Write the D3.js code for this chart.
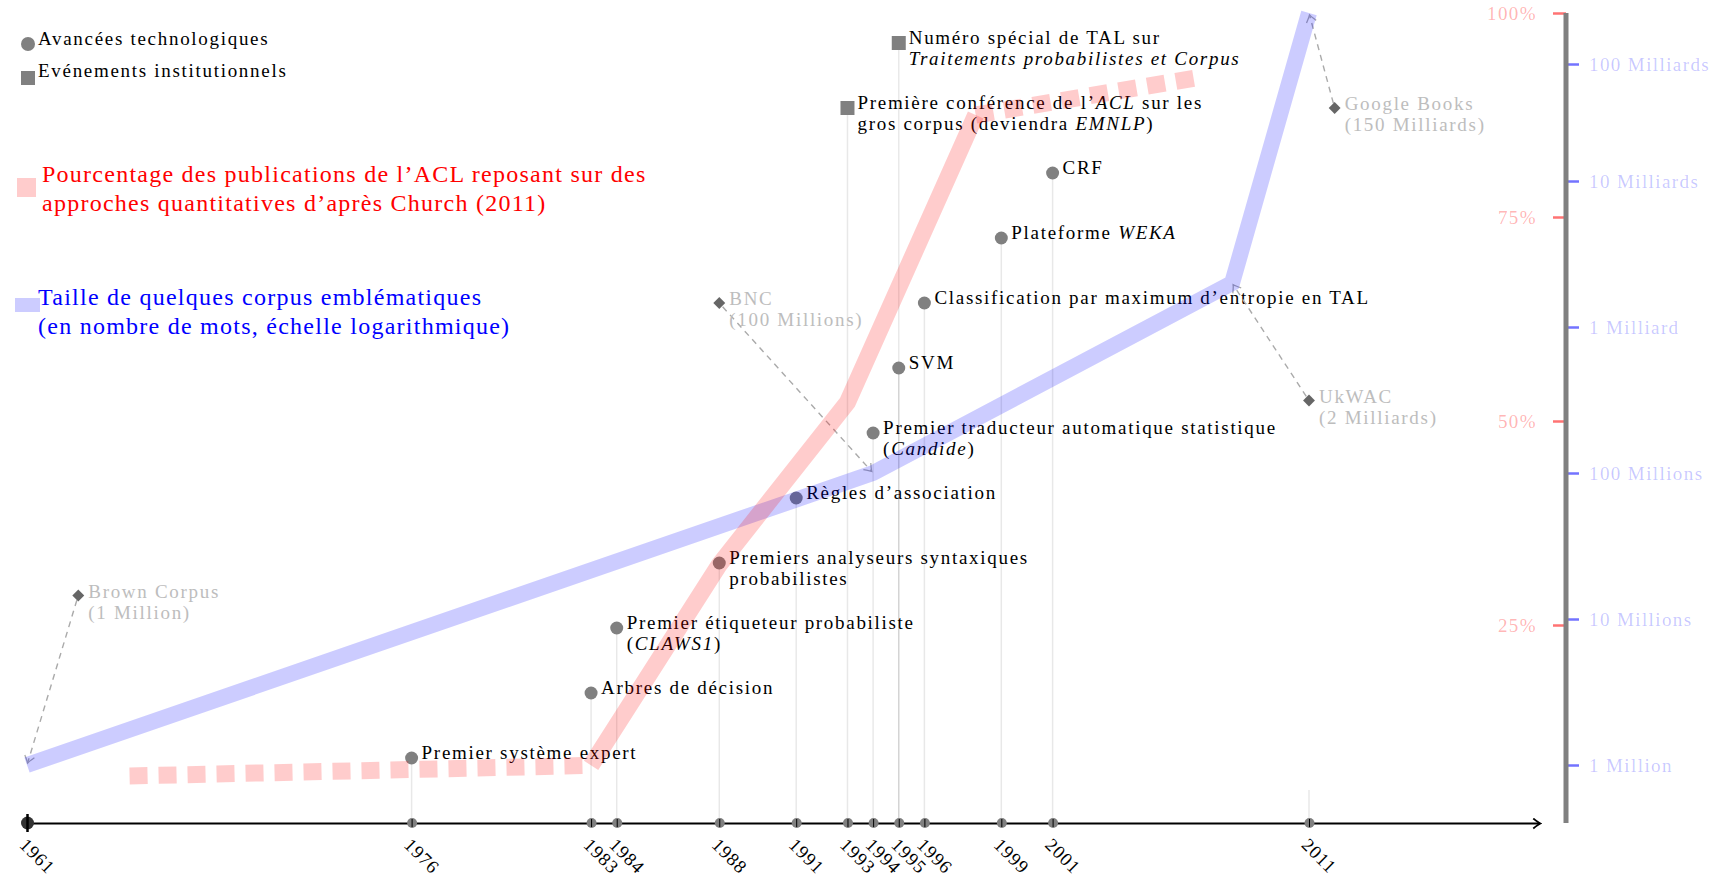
<!DOCTYPE html>
<html>
<head>
<meta charset="utf-8">
<script src="https://cdn.jsdelivr.net/npm/d3@7"></script>
<style>
  body { margin: 0; background: #fff; }
  text { font-family: "Liberation Serif", serif; font-size: 19px; letter-spacing: 1.7px; }
</style>
</head>
<body>
<svg id="chart" width="1719" height="882"></svg>
<script>
// years shown on the time axis
const years = [1961, 1976, 1983, 1984, 1988, 1991, 1993, 1994, 1995, 1996, 1999, 2001, 2011];
const stubYears = [2011];

// events : year, row, kind, label (*...* = italic, \n = new line)
const eventYears  = [1976, 1983, 1984, 1988, 1991, 1994, 1995, 1996, 1999, 2001, 1993, 1995];
const eventLevels = [1, 2, 3, 4, 5, 6, 7, 8, 9, 10, 11, 12];
const eventKinds  = ["tech","tech","tech","tech","tech","tech","tech","tech","tech","tech","inst","inst"];
const eventLabels = [
  "Premier système expert",
  "Arbres de décision",
  "Premier étiqueteur probabiliste\n(*CLAWS1*)",
  "Premiers analyseurs syntaxiques\nprobabilistes",
  "Règles d’association",
  "Premier traducteur automatique statistique\n(*Candide*)",
  "SVM",
  "Classification par maximum d’entropie en TAL",
  "Plateforme *WEKA*",
  "CRF",
  "Première conférence de l’*ACL* sur les\ngros corpus (deviendra *EMNLP*)",
  "Numéro spécial de TAL sur\n*Traitements probabilistes et Corpus*"
];

// corpus sizes (words)
const corpusNames = ["Brown Corpus", "BNC", "UkWAC", "Google Books"];
const corpusSizes = ["(1 Million)", "(100 Millions)", "(2 Milliards)", "(150 Milliards)"];
const corpusYears = [1961, 1994, 2008, 2011];
const corpusWords = [1e6, 1e8, 2e9, 1.5e11];
const corpusLabelYears = [1963, 1988, 2011, 2012];
const corpusLabelLevels = [3.5, 8, 6.5, 11];

// share of ACL papers with quantitative approaches (Church 2011), %
const aclEarlyYears = [1965, 1983];
const aclEarlyPct   = [6.5, 7.8];
const aclMainYears  = [1983, 1988, 1993, 1998];
const aclMainPct    = [7.8, 32.4, 52.3, 87.5];
const aclLateYears  = [1998, 2006.5];
const aclLatePct    = [87.5, 92];

// right axis ticks
const pctTicks = [25, 50, 75, 100];
const wordTicks = [1e6, 1e7, 1e8, 1e9, 1e10, 1e11];
const wordTickLabels = ["1 Million", "10 Millions", "100 Millions", "1 Milliard", "10 Milliards", "100 Milliards"];

// scales
const x = d3.scaleLinear().domain([1961, 2011]).range([27, 1309]);
const level = d3.scaleLinear().domain([0, 12]).range([823, 43]);
const pct = d3.scaleLinear().domain([0, 100]).range([829, 13]);
const words = d3.scaleLog().domain([1e6, 1e10, 1e11, 1.5e11]).range([765, 181, 64, 13]);
const axisY = level(0);
const rightX = 1566;

const svg = d3.select("#chart");
const defs = svg.append("defs");
const arrowHead = (id, color, w) => defs.append("marker")
    .attr("id", id).attr("viewBox", "-10 -6 12 12")
    .attr("refX", 0).attr("refY", 0)
    .attr("markerWidth", 12).attr("markerHeight", 12)
    .attr("markerUnits", "userSpaceOnUse").attr("orient", "auto")
  .append("path").attr("d", "M-7,-5 Q-2,-1 0,0 Q-2,1 -7,5")
    .attr("fill", "none").attr("stroke", color).attr("stroke-width", w);
arrowHead("axisArrow", "#000", 1.8);
arrowHead("grayArrow", "#aaa", 1.3);

const richText = (g, str, x0, y0, lh, color) => {
  str.split("\n").forEach((line, i) => {
    const t = g.append("text").attr("x", x0).attr("y", y0 + i * lh).attr("fill", color);
    line.split("*").forEach((part, j) => {
      if (part) t.append("tspan").attr("font-style", j % 2 ? "italic" : null).text(part);
    });
  });
};

// event guide lines
const events = eventYears.map((y, i) => ({year: y, level: eventLevels[i], kind: eventKinds[i], label: eventLabels[i]}));
svg.append("g").selectAll("line")
  .data(events)
  .join("line")
    .attr("x1", d => x(d.year)).attr("x2", d => x(d.year))
    .attr("y1", d => level(d.level)).attr("y2", axisY)
    .attr("stroke", "#000").attr("stroke-opacity", 0.09).attr("stroke-width", 1.5);
svg.append("g").selectAll("line")
  .data(stubYears)
  .join("line")
    .attr("x1", d => x(d)).attr("x2", d => x(d))
    .attr("y1", axisY - 33).attr("y2", axisY)
    .attr("stroke", "#000").attr("stroke-opacity", 0.09).attr("stroke-width", 1.5);

// time axis
const xAxisScale = x.copy().domain([1961, 2020]).range([x(1961), x(2020)]);
const xAxis = svg.append("g")
    .attr("transform", `translate(0,${axisY})`)
    .call(d3.axisBottom(xAxisScale).tickValues(years).tickFormat(d3.format("d")).tickSize(0).tickSizeOuter(0));
xAxis.select(".domain").attr("stroke-width", 2).attr("marker-end", "url(#axisArrow)");
xAxis.selectAll(".tick text")
    .attr("y", 0).attr("dy", 0).attr("text-anchor", "start")
    .attr("transform", "translate(-9,23) rotate(45)")
    .attr("font-family", null).attr("font-size", null)
    .style("font-size", "18.5px").style("letter-spacing", "1px");
xAxis.selectAll(".tick").append("circle")
    .attr("r", d => d === 1961 ? 6.5 : 5)
    .attr("fill", d => d === 1961 ? "#333" : "#808080");
xAxis.selectAll(".tick").append("line")
    .attr("y1", d => d === 1961 ? -9 : -4).attr("y2", d => d === 1961 ? 9 : 4)
    .attr("stroke", "#000").attr("stroke-width", d => d === 1961 ? 2.5 : 1);

// event markers and labels
const evG = svg.append("g");
evG.selectAll("circle")
  .data(events.filter(d => d.kind === "tech"))
  .join("circle")
    .attr("cx", d => x(d.year)).attr("cy", d => level(d.level))
    .attr("r", 6.5).attr("fill", "#808080");
evG.selectAll("rect")
  .data(events.filter(d => d.kind === "inst"))
  .join("rect")
    .attr("x", d => x(d.year) - 7).attr("y", d => level(d.level) - 7)
    .attr("width", 14).attr("height", 14).attr("fill", "#808080");
events.forEach(d => richText(evG, d.label, x(d.year) + 10, level(d.level) + 1, 21, "#000"));

// corpus labels with arrows
const corpus = corpusNames.map((n, i) => ({
  name: n, size: corpusSizes[i], year: corpusYears[i], words: corpusWords[i],
  lx: x(corpusLabelYears[i]), ly: level(corpusLabelLevels[i])
}));
const cG = svg.append("g");
cG.selectAll("path.link")
  .data(corpus)
  .join("path")
    .attr("class", "link")
    .attr("d", d => {
      const tx = x(d.year), ty = words(d.words);
      const dx = tx - d.lx, dy = ty - d.ly, len = Math.hypot(dx, dy);
      return `M${d.lx + dx / len * 5},${d.ly + dy / len * 5}L${tx - dx / len * 2},${ty - dy / len * 2}`;
    })
    .attr("fill", "none").attr("stroke", "#aaa").attr("stroke-width", 1.4)
    .attr("stroke-dasharray", "6 5").attr("marker-end", "url(#grayArrow)");
cG.selectAll("rect")
  .data(corpus)
  .join("rect")
    .attr("x", -4.2).attr("y", -4.2).attr("width", 8.4).attr("height", 8.4)
    .attr("transform", d => `translate(${d.lx},${d.ly}) rotate(45)`)
    .attr("fill", "#666");
corpus.forEach(d => richText(cG, `${d.name}\n${d.size}`, d.lx + 10, d.ly + 2, 21, "#bdbdbd"));

// right axis
const pctAxis = svg.append("g")
    .attr("transform", `translate(${rightX},0)`)
    .call(d3.axisLeft(pct).tickValues(pctTicks).tickFormat(d => d + "%").tickSize(13).tickPadding(16));
pctAxis.select(".domain").remove();
pctAxis.selectAll(".tick line").attr("stroke", "#f00").attr("stroke-opacity", 0.55).attr("stroke-width", 2.5);
pctAxis.selectAll(".tick text").attr("fill", "#f00").attr("fill-opacity", 0.3)
    .attr("font-family", null).attr("font-size", null).style("letter-spacing", "1.4px");

const wordAxis = svg.append("g")
    .attr("transform", `translate(${rightX},0)`)
    .call(d3.axisRight(words).tickValues(wordTicks).tickFormat((d, i) => wordTickLabels[i]).tickSize(13).tickPadding(10));
wordAxis.select(".domain").remove();
wordAxis.selectAll(".tick line").attr("stroke", "#00f").attr("stroke-opacity", 0.55).attr("stroke-width", 2.5);
wordAxis.selectAll(".tick text").attr("fill", "#00f").attr("fill-opacity", 0.22)
    .attr("font-family", null).attr("font-size", null).style("letter-spacing", "1.4px");

svg.append("line")
    .attr("x1", rightX).attr("x2", rightX)
    .attr("y1", pct(100)).attr("y2", axisY)
    .attr("stroke", "#808080").attr("stroke-width", 5);

// big translucent series lines, on top
const corpusLine = d3.line().x((d, i) => x(corpusYears[i])).y(d => words(d));
svg.append("path")
    .attr("d", corpusLine(corpusWords))
    .attr("fill", "none").attr("stroke", "#00f").attr("stroke-opacity", 0.2)
    .attr("stroke-width", 16).attr("stroke-linejoin", "miter").attr("stroke-miterlimit", 10);

const aclLine = (yrs) => d3.line().x((d, i) => x(yrs[i])).y(d => pct(d));
[[aclEarlyYears, aclEarlyPct, "18 11"], [aclMainYears, aclMainPct, null], [aclLateYears, aclLatePct, "18 11"]]
  .forEach(([yrs, vals, dash]) => {
    svg.append("path")
        .attr("d", aclLine(yrs)(vals))
        .attr("fill", "none").attr("stroke", "#f00").attr("stroke-opacity", 0.2)
        .attr("stroke-width", 17).attr("stroke-dasharray", dash)
        .attr("stroke-linejoin", "miter");
  });

// legend
const lg = svg.append("g");
lg.append("circle").attr("cx", 28).attr("cy", 44).attr("r", 7).attr("fill", "#808080");
lg.append("text").attr("x", 38).attr("y", 45).text("Avancées technologiques");
lg.append("rect").attr("x", 21).attr("y", 71).attr("width", 14).attr("height", 14).attr("fill", "#808080");
lg.append("text").attr("x", 38).attr("y", 77).text("Evénements institutionnels");

lg.append("rect").attr("x", 17).attr("y", 178).attr("width", 19).attr("height", 19)
    .attr("fill", "#f00").attr("fill-opacity", 0.2);
lg.append("rect").attr("x", 15).attr("y", 298).attr("width", 25).attr("height", 14)
    .attr("fill", "#00f").attr("fill-opacity", 0.2);
const bigLegend = (str, x0, y0, color) => str.split("\n").forEach((line, i) =>
  lg.append("text").attr("x", x0).attr("y", y0 + i * 29).attr("fill", color)
    .style("font-size", "24px").style("letter-spacing", "1.25px").text(line));
bigLegend("Pourcentage des publications de l’ACL reposant sur des\napproches quantitatives d’après Church (2011)", 42, 182, "#f00");
bigLegend("Taille de quelques corpus emblématiques\n(en nombre de mots, échelle logarithmique)", 38, 305, "#00f");
</script>
</body>
</html>
